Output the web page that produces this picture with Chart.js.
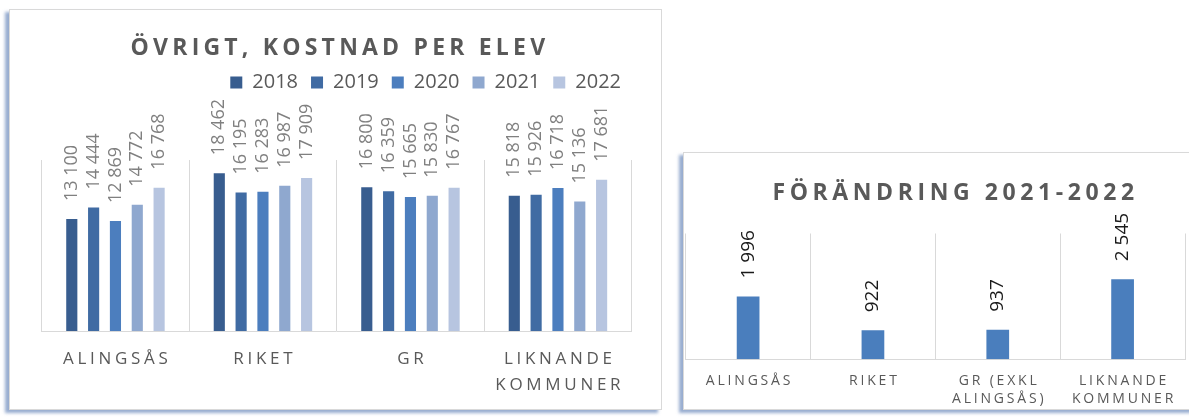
<!DOCTYPE html>
<html lang="sv">
<head>
<meta charset="utf-8">
<script src="https://cdn.jsdelivr.net/npm/chart.js@4.4.1/dist/chart.umd.min.js"></script>
<style>
  html, body { margin: 0; background: #fff; overflow: hidden; }
  body { width: 1189px; height: 418px; position: relative; }
  .box {
    position: absolute;
    background: #fff;
    border: 1px solid #d9d9d9;
    box-shadow: -4px 3px 3px rgba(68, 105, 170, 0.55);
  }
  #costBox { left: 9px; top: 9px; }
  #changeBox { left: 683px; top: 152px; }
  canvas { display: block; }
</style>
</head>
<body>
<div class="box" id="costBox"><canvas id="costChart" width="651" height="399"></canvas></div>
<div class="box" id="changeBox"><canvas id="changeChart" width="560" height="256"></canvas></div>
<script>
// cost per pupil, by group and year
const years = ['2018', '2019', '2020', '2021', '2022'];
const costLabels = ['ALINGS\u00C5S', 'RIKET', 'GR', ['LIKNANDE', 'KOMMUNER']];
const cost2018 = [13100, 18462, 16800, 15818];
const cost2019 = [14444, 16195, 16359, 15926];
const cost2020 = [12869, 16283, 15665, 16718];
const cost2021 = [14772, 16987, 15830, 15136];
const cost2022 = [16768, 17909, 16767, 17681];
const costSeries = [cost2018, cost2019, cost2020, cost2021, cost2022];
const yearColors = ['#385d8f', '#406ba3', '#4c7ebe', '#8fa8cf', '#b7c5e0'];
const costTitle = '\u00D6VRIGT, KOSTNAD PER ELEV';

// change 2021 -> 2022
const changeLabels = ['ALINGS\u00C5S', 'RIKET', ['GR (EXKL', 'ALINGS\u00C5S)'], ['LIKNANDE', 'KOMMUNER']];
const change2122 = [1996, 922, 937, 2545];
const changeTitle = 'F\u00D6R\u00C4NDRING 2021-2022';

const fmt = v => String(v).replace(/\B(?=(\d{3})+(?!\d))/g, ' ');

Chart.defaults.font.family = "'Open Sans', sans-serif";
Chart.defaults.color = '#595959';

// rotated value above every bar
const valueLabels = {
  id: 'valueLabels',
  afterDatasetsDraw(chart, args, opts) {
    const ctx = chart.ctx;
    ctx.save();
    ctx.font = opts.labelFont;
    ctx.fillStyle = opts.labelColor;
    ctx.textAlign = 'left';
    ctx.textBaseline = 'middle';
    chart.data.datasets.forEach((ds, i) => {
      chart.getDatasetMeta(i).data.forEach((bar, j) => {
        ctx.save();
        ctx.translate(bar.x, bar.y - opts.labelOffset);
        ctx.rotate(-Math.PI / 2);
        ctx.fillText(fmt(ds.data[j]), 0, 0);
        ctx.restore();
      });
    });
    ctx.restore();
  }
};

// wide tracking for titles and category names
function spacedText(gaps) {
  return {
    id: 'spacedText',
    beforeInit(chart) {
      const ctx = chart.ctx;
      const fill = ctx.fillText;
      ctx.fillText = function (text, x, y, maxWidth) {
        const gap = gaps[text];
        if (!gap) return fill.apply(this, arguments);
        const prev = this.letterSpacing;
        this.letterSpacing = gap + 'px';
        const shift = this.textAlign === 'center' ? gap / 2 : 0;
        fill.call(this, text, x + shift, y, maxWidth);
        this.letterSpacing = prev;
      };
    }
  };
}

const costGaps = { [costTitle]: 4.2 };
costLabels.flat().forEach(t => { costGaps[t] = 3.7; });
const changeGaps = { [changeTitle]: 4.6 };
changeLabels.flat().forEach(t => { changeGaps[t] = 2.8; });

const hidden = { grid: { display: false }, border: { display: false }, ticks: { display: false } };

new Chart(document.getElementById('costChart'), {
  type: 'bar',
  data: {
    labels: costLabels,
    datasets: years.map((y, i) => ({
      label: y,
      data: costSeries[i],
      backgroundColor: yearColors[i],
      categoryPercentage: 0.74,
      barPercentage: 0.51,
      xAxisID: 'x'
    }))
  },
  options: {
    responsive: false,
    animation: false,
    layout: { padding: { top: 26.6, left: 31.7, right: 27, bottom: 0 } },
    plugins: {
      title: {
        display: true, text: costTitle, color: '#595959',
        font: { size: 23, weight: 'bold', lineHeight: 1 }, padding: 0
      },
      legend: {
        position: 'top', align: 'end',
        labels: { boxWidth: 12, boxHeight: 12, padding: 13, color: '#595959', font: { size: 20 } }
      },
      tooltip: { enabled: false },
      valueLabels: { labelFont: "18px 'Open Sans'", labelColor: '#808080', labelOffset: 18 }
    },
    scales: {
      x: {
        position: 'bottom',
        grid: { color: '#d9d9d9', drawTicks: false, offset: true },
        border: { color: '#d9d9d9' },
        ticks: { color: '#595959', padding: 15, font: { size: 17, lineHeight: 1.53 }, maxRotation: 0, autoSkip: false },
        afterFit: s => { s.height = 78; }
      },
      xTop: { position: 'top', ...hidden, afterFit: s => { s.height = 57.4; } },
      y: { position: 'right', min: 0, max: 20000, ...hidden, afterFit: s => { s.width = 2.3; } }
    }
  },
  plugins: [valueLabels, spacedText(costGaps)]
});

new Chart(document.getElementById('changeChart'), {
  type: 'bar',
  data: {
    labels: changeLabels,
    datasets: [{
      label: changeTitle,
      data: change2122,
      backgroundColor: '#4a7ebd',
      categoryPercentage: 1,
      barPercentage: 0.182
    }]
  },
  options: {
    responsive: false,
    animation: false,
    layout: { padding: { top: 29, left: 1.7, right: 23, bottom: 0 } },
    plugins: {
      title: {
        display: true, text: changeTitle, color: '#595959',
        font: { size: 23, weight: 'bold', lineHeight: 1 }, padding: { top: 0, bottom: 28.5 }
      },
      legend: { display: false },
      tooltip: { enabled: false },
      valueLabels: { labelFont: "19px 'Open Sans'", labelColor: '#1a1a1a', labelOffset: 18 }
    },
    scales: {
      x: {
        grid: { color: '#d9d9d9', drawTicks: false, offset: true },
        border: { color: '#d9d9d9' },
        ticks: { color: '#595959', padding: 12.2, font: { size: 14, lineHeight: 1.3 }, maxRotation: 0, autoSkip: false },
        afterFit: s => { s.height = 49.7; }
      },
      y: { position: 'right', min: 0, max: 4000, ...hidden, afterFit: s => { s.width = 36; } }
    }
  },
  plugins: [valueLabels, spacedText(changeGaps)]
});
</script>
</body>
</html>
